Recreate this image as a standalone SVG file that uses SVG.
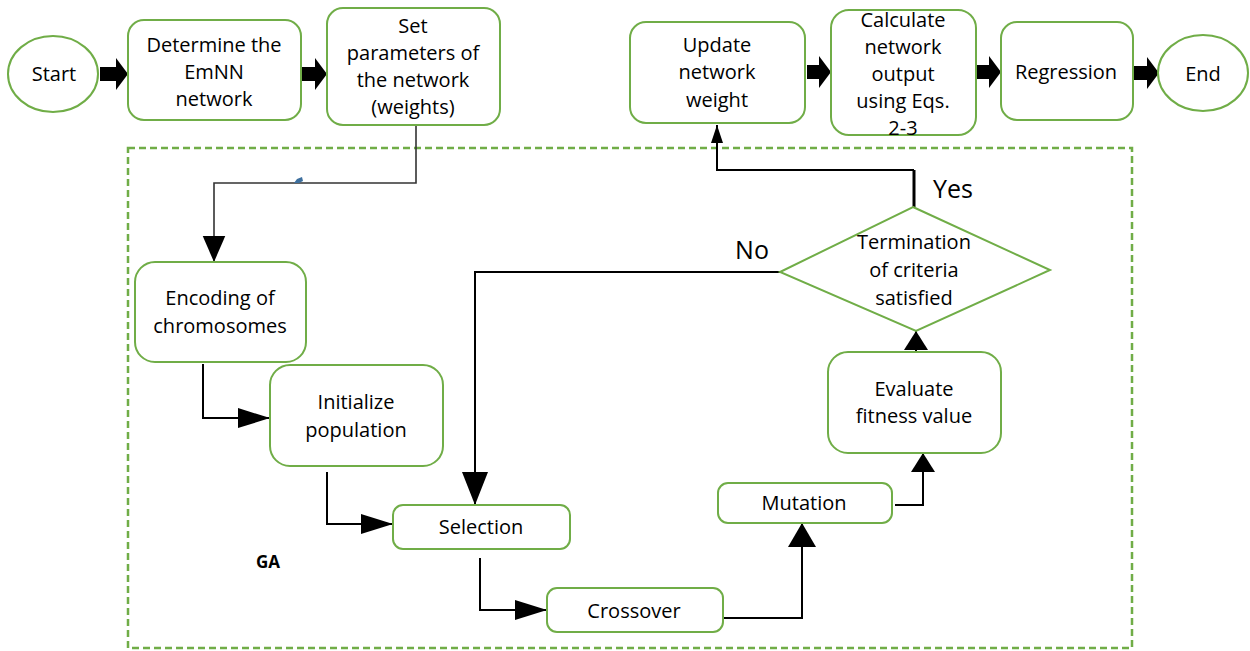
<svg xmlns="http://www.w3.org/2000/svg" width="1250" height="651" viewBox="0 0 1250 651">
<style>
.box{fill:#fff;stroke:#70AD47;stroke-width:2}
.t{font-family:"Open Sans","Liberation Sans",Arial,sans-serif;font-size:20px;fill:#000;text-anchor:middle}
.big{font-family:"Open Sans","Liberation Sans",Arial,sans-serif;font-size:25px;fill:#000;text-anchor:middle}
.ga{font-family:"Open Sans","Liberation Sans",Arial,sans-serif;font-size:17px;font-weight:bold;fill:#000;text-anchor:middle}
.ln{fill:none;stroke:#000;stroke-width:2}
.blk{fill:#000}
</style>
<defs>
<marker id="mBig" viewBox="0 0 30 26" refX="30" refY="13" markerWidth="26" markerHeight="26" markerUnits="userSpaceOnUse" orient="auto"><path d="M0,0 L30,13 L0,26 Z" fill="#000"/></marker>
<marker id="mLong" viewBox="0 0 32 20" refX="32" refY="10" markerWidth="32" markerHeight="20" markerUnits="userSpaceOnUse" orient="auto"><path d="M0,0 L32,10 L0,20 Z" fill="#000"/></marker>
<marker id="mSel" viewBox="0 0 33 26" refX="33" refY="13" markerWidth="33" markerHeight="26" markerUnits="userSpaceOnUse" orient="auto"><path d="M0,0 L33,13 L0,26 Z" fill="#000"/></marker>
<marker id="mMid" viewBox="0 0 24 28" refX="24" refY="14" markerWidth="24" markerHeight="28" markerUnits="userSpaceOnUse" orient="auto"><path d="M0,0 L24,14 L0,28 Z" fill="#000"/></marker>
<marker id="mSm" viewBox="0 0 19 24" refX="19" refY="12" markerWidth="19" markerHeight="24" markerUnits="userSpaceOnUse" orient="auto"><path d="M0,0 L19,12 L0,24 Z" fill="#000"/></marker>
<marker id="mTiny" viewBox="0 0 18 12" refX="18" refY="6" markerWidth="18" markerHeight="12" markerUnits="userSpaceOnUse" orient="auto"><path d="M0,0 L18,6 L0,12 Z" fill="#000"/></marker>
</defs>
<rect width="1250" height="651" fill="#fff"/>

<rect id="ga-frame" x="128" y="148" width="1004" height="500" fill="none" stroke="#70AD47" stroke-width="2.5" stroke-dasharray="7,4"/>
<text class="ga" x="268" y="568">GA</text>

<g id="connectors">
  <path class="blk" d="M100,67 H116 V58 L128,74 L116,90 V81 H100 Z"/>
  <path class="blk" d="M302,67 H315 V58 L327,74 L315,90 V81 H302 Z"/>
  <path class="blk" d="M807,65 H819 V56 L831,72 L819,88 V79 H807 Z"/>
  <path class="blk" d="M976,65 H989 V56 L1001,72 L989,88 V79 H976 Z"/>
  <path class="blk" d="M1134,66 H1147 V57 L1159,73 L1147,89 V80 H1134 Z"/>
  <path d="M416,125 V183 H214 V262" fill="none" stroke="#333" stroke-width="1.6" marker-end="url(#mBig)"/>
  <path d="M294,183 L297,179 L302,177 L303,181 L299,183 Z" fill="#3d6f9e"/>
  <path class="ln" d="M203,364 V418 H270" marker-end="url(#mLong)"/>
  <path class="ln" d="M327,472 V524 H393" marker-end="url(#mLong)"/>
  <path class="ln" d="M780,272 H475 V505" marker-end="url(#mSel)"/>
  <path class="ln" d="M480,558 V610 H547" marker-end="url(#mLong)"/>
  <path class="ln" d="M723,618 H802 V523" marker-end="url(#mMid)"/>
  <path class="ln" d="M895,505 H923 V453" marker-end="url(#mSm)"/>
  <path class="ln" d="M916,352 V331" marker-end="url(#mSm)"/>
  <path d="M914,207 V170" fill="none" stroke="#000" stroke-width="3"/>
  <path class="ln" d="M914,170 H717 V125" marker-end="url(#mTiny)"/>
  <text class="big" x="752" y="259">No</text>
  <text class="big" x="953" y="198">Yes</text>
</g>

<g id="start"><ellipse class="box" cx="53" cy="74" rx="45" ry="38"/><text class="t" x="54" y="81">Start</text></g>
<g id="determine"><rect class="box" x="128" y="20" width="173" height="100" rx="16"/><text class="t" x="214" y="52">Determine the</text><text class="t" x="214" y="79">EmNN</text><text class="t" x="214" y="106">network</text></g>
<g id="setparams"><rect class="box" x="327" y="8" width="173" height="117" rx="16"/><text class="t" x="413" y="33">Set</text><text class="t" x="413" y="60">parameters of</text><text class="t" x="413" y="87">the network</text><text class="t" x="413" y="114">(weights)</text></g>
<g id="update"><rect class="box" x="630" y="22" width="175" height="101" rx="16"/><text class="t" x="717" y="52">Update</text><text class="t" x="717" y="79">network</text><text class="t" x="717" y="107">weight</text></g>
<g id="calculate"><rect class="box" x="831" y="10" width="145" height="125" rx="18"/><text class="t" x="903" y="27">Calculate</text><text class="t" x="903" y="54">network</text><text class="t" x="903" y="81">output</text><text class="t" x="903" y="108">using Eqs.</text><text class="t" x="903" y="135">2-3</text></g>
<g id="regression"><rect class="box" x="1001" y="22" width="132" height="98" rx="16"/><text class="t" x="1066" y="79">Regression</text></g>
<g id="end"><ellipse class="box" cx="1203" cy="73" rx="45" ry="38"/><text class="t" x="1203" y="81">End</text></g>
<g id="encoding"><rect class="box" x="135" y="262" width="171" height="100" rx="20"/><text class="t" x="220" y="305">Encoding of</text><text class="t" x="220" y="333">chromosomes</text></g>
<g id="initialize"><rect class="box" x="270" y="365" width="173" height="101" rx="20"/><text class="t" x="356" y="409">Initialize</text><text class="t" x="356" y="437">population</text></g>
<g id="selection"><rect class="box" x="393" y="505" width="177" height="44" rx="10"/><text class="t" x="481" y="534">Selection</text></g>
<g id="crossover"><rect class="box" x="547" y="588" width="176" height="44" rx="10"/><text class="t" x="634" y="618">Crossover</text></g>
<g id="mutation"><rect class="box" x="718" y="483" width="174" height="40" rx="10"/><text class="t" x="804" y="510">Mutation</text></g>
<g id="evaluate"><rect class="box" x="828" y="352" width="173" height="101" rx="20"/><text class="t" x="914" y="396">Evaluate</text><text class="t" x="914" y="423">fitness value</text></g>
<g id="termination"><polygon class="box" points="913,207 1050,270 916,331 780,272"/><text class="t" x="914" y="249">Termination</text><text class="t" x="914" y="277">of criteria</text><text class="t" x="914" y="305">satisfied</text></g>
</svg>
